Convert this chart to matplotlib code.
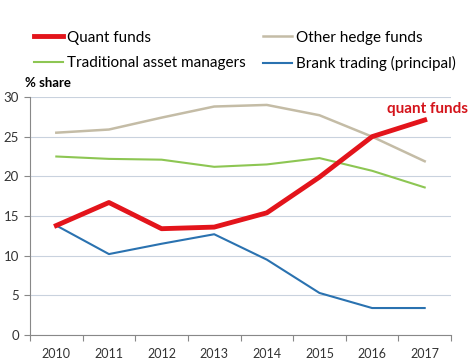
import matplotlib
matplotlib.use("Agg")
import matplotlib.pyplot as plt

years = ["2010", "2011", "2012", "2013", "2014", "2015", "2016", "2017"]
quant = [13.8, 16.7, 13.4, 13.6, 15.4, 19.9, 25.0, 27.1]
other_hedge = [25.5, 25.9, 27.4, 28.8, 29.0, 27.7, 25.0, 21.9]
traditional = [22.5, 22.2, 22.1, 21.2, 21.5, 22.3, 20.7, 18.6]
bank = [13.8, 10.2, 11.5, 12.7, 9.5, 5.3, 3.4, 3.4]

plt.rcParams['font.family'] = ['Lato', 'DejaVu Sans']

fig = plt.figure(figsize=(4.71, 3.62), dpi=100)
ax = fig.add_axes([30 / 471, 1 - 335 / 362, 421 / 471, 238 / 362])

x = range(len(years))
l_trad, = ax.plot(x, traditional, color='#8dc653', lw=1.5, label='Traditional asset managers')
l_other, = ax.plot(x, other_hedge, color='#c4bca6', lw=1.8, label='Other hedge funds')
l_bank, = ax.plot(x, bank, color='#2a72b0', lw=1.5, label='Brank trading (principal)')
l_quant, = ax.plot(x, quant, color='#e3141b', lw=3.5, label='Quant funds', zorder=5)

ax.set_xlim(-0.5, len(years) - 0.5)
ax.set_ylim(0, 30)
ax.set_yticks(range(0, 31, 5))
ax.set_xticks([i + 0.5 for i in range(-1, len(years))], minor=False)
ax.set_xticklabels([])
ax.set_xticks(list(x), minor=True)
ax.set_xticklabels(years, minor=True)
ax.tick_params(axis='x', which='minor', length=0, pad=9, labelsize=9, labelcolor='#333333')
ax.tick_params(axis='x', which='major', length=4, color='#888888', direction='out')
ax.tick_params(axis='y', length=4, color='#888888', labelsize=9.5, labelcolor='#333333', pad=4)
ax.grid(axis='y', color='#c9d2de', lw=0.8)
ax.set_axisbelow(True)
for s in ['top', 'right']:
    ax.spines[s].set_visible(False)
for s in ['left', 'bottom']:
    ax.spines[s].set_color('#888888')

fig.text(25 / 471, 1 - 89 / 362, '% share', fontsize=9.5, fontweight='bold', va='bottom', ha='left')
ax.text(len(years) - 0.5 + 0.33, 27.6, 'quant funds', color='#d4141b', fontsize=11,
        fontweight='bold', ha='right', va='bottom', clip_on=False)

fig.legend(handles=[l_quant, l_trad, l_other, l_bank], ncol=2, loc='upper left',
           bbox_to_anchor=(20 / 471, 1 - 17 / 362), frameon=False, fontsize=11,
           handlelength=1.9, handletextpad=0.25, columnspacing=1.15, labelspacing=0.75)

fig.savefig('out.png', dpi=100)
